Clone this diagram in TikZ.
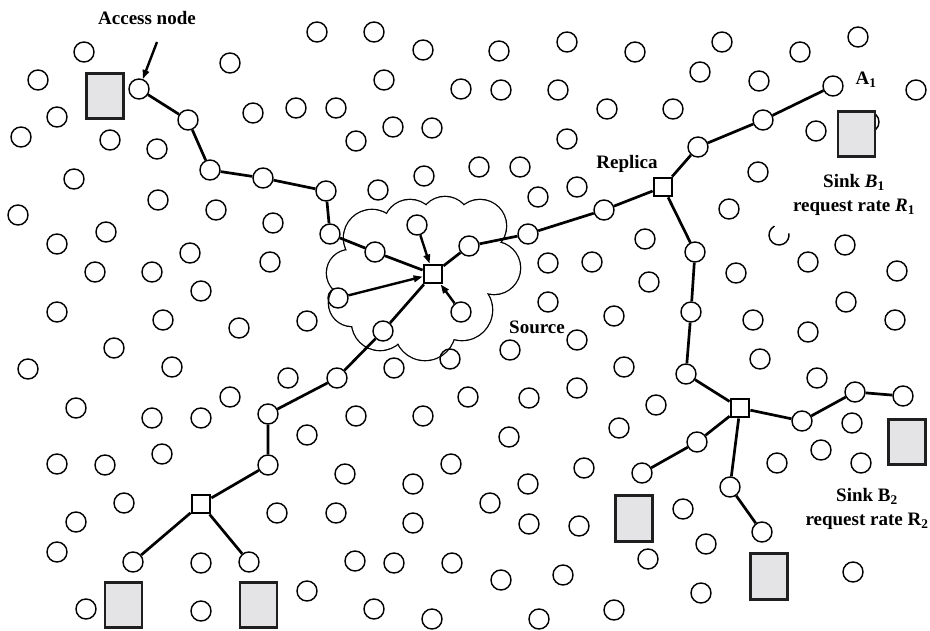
\documentclass[tikz,border=0pt]{standalone}
\usepackage{fontspec}
\setmainfont{Liberation Serif}
\usetikzlibrary{arrows.meta}
\definecolor{sinkgray}{RGB}{228,228,231}
\begin{document}
\begin{tikzpicture}[x=1pt,y=-1pt,
  dot/.style={circle,draw,line width=1.45pt,minimum size=20pt,inner sep=0pt},
  relay/.style={rectangle,draw,line width=2.8pt,minimum size=18pt,inner sep=0pt,fill=white},
  sinkbox/.style={rectangle,draw=black!88,line width=2.9pt,fill=sinkgray,minimum width=37pt,minimum height=45.5pt,inner sep=0pt},
  link/.style={line width=2.7pt},
  arr/.style={line width=2.4pt,-{Triangle[length=9pt,width=6.5pt]}},
  lbl/.style={font=\fontsize{19}{24}\selectfont\bfseries,inner sep=0pt,align=center}
]
\useasboundingbox (0,0) rectangle (930,631);

% cloud
\def\bumps{372/238/28,410/226/26,445/222/25,480/226/26,494/268/26,462/310/30,425/330/30,380/322/28,352/303/23,350/273/23}
\foreach \u/\v/\r in \bumps {\draw[line width=2.6pt] (\u,\v) circle[radius=\r];}
\foreach \u/\v/\r in \bumps {\fill[white] (\u,\v) circle[radius=\r];}
\fill[white] (425,275) ellipse[x radius=65,y radius=50];

% background sensor nodes
\foreach \p [count=\i] in {
(84,52),(317,32),(374,32),(423,50),(499,51),(567,42),(635,52),(722,42),(800,52),(858,37),
(38,80),(230,63),(384,80),(461,89),(501,90),(558,90),(700,72),(759,81),(916,90),
(57,117),(253,113),(296,108),(336,108),(393,127),(432,128),(607,109),(673,109),
(21,137),(110,140),(157,149),(356,141),(567,139),(816,131),
(74,179),(158,200),(424,176),(378,190),(479,167),(520,167),(577,187),(538,197),(758,172),
(18,215),(216,210),(106,232),(57,244),(190,253),(273,223),(270,262),(729,209),
(95,272),(152,272),(201,291),(645,239),(548,263),(592,262),(649,282),(845,245),(808,262),(736,273),(897,271),
(57,312),(163,320),(239,328),(307,321),(548,302),(614,316),(846,302),(753,320),(808,332),(895,320),
(114,348),(28,369),(172,367),(230,397),(288,378),(450,359),(394,368),(468,397),(510,350),(577,340),(624,367),(760,359),(817,378),
(76,408),(152,418),(201,418),(356,416),(423,416),(529,398),(577,388),(656,405),(619,428),
(57,464),(105,465),(162,454),(124,503),(76,522),(57,552),(201,563),(86,609),(201,611),
(307,435),(345,474),(413,484),(451,464),(277,513),(336,513),(413,523),(355,561),(394,563),(452,563),(307,591),(374,609),(432,619),
(509,437),(584,468),(528,484),(490,503),(529,524),(579,526),(683,509),(706,544),(648,559),(501,580),(563,575),(701,593),(539,619),(614,610),
(852,423),(821,450),(777,463),(861,463),(853,572),(869,122)}
  {\node[dot] (n\i) at \p {};}

% broken circle
\draw[line width=1.45pt] (779,235) ++(-117:10) arc[start angle=-117,end angle=-370,radius=10];

% route nodes
\node[dot] (a0) at (139,89) {};
\node[dot] (a1) at (188,120) {};
\node[dot] (a2) at (210,170) {};
\node[dot] (a3) at (263,178) {};
\node[dot] (a4) at (326,191) {};
\node[dot] (a5) at (330,234) {};
\node[dot] (a6) at (375,252) {};
\node[dot] (b1) at (469,246) {};
\node[dot] (b2) at (528,234) {};
\node[dot] (b3) at (604,210) {};
\node[dot] (c1) at (698,147) {};
\node[dot] (c2) at (763,120) {};
\node[dot] (c3) at (833,86) {};
\node[dot] (d1) at (695,252) {};
\node[dot] (d2) at (691,312) {};
\node[dot] (d3) at (686,374) {};
\node[dot] (e1) at (697,442) {};
\node[dot] (e2) at (642,473) {};
\node[dot] (f1) at (730,487) {};
\node[dot] (f2) at (762,532) {};
\node[dot] (g1) at (802,421) {};
\node[dot] (g2) at (855,392) {};
\node[dot] (g3) at (903,396) {};
\node[dot] (h1) at (383,331) {};
\node[dot] (h2) at (337,378) {};
\node[dot] (h3) at (268,414) {};
\node[dot] (h4) at (268,465) {};
\node[dot] (i1) at (133,562) {};
\node[dot] (i2) at (249,562) {};
\node[dot] (j1) at (338,298) {};
\node[dot] (j2) at (417,225) {};
\node[dot] (j3) at (461,312) {};

% relays
\node[relay] (src) at (433,274) {};
\node[relay] (rep) at (663,187) {};
\node[relay] (rr) at (740,408) {};
\node[relay] (rl) at (201,504) {};

% sinks
\node[sinkbox] (s0) at (105,96) {};
\node[sinkbox] (s1) at (856.5,134) {};
\node[sinkbox] (s2) at (123.5,605) {};
\node[sinkbox] (s3) at (258.5,605) {};
\node[sinkbox] (s4) at (634,518.5) {};
\node[sinkbox] (s5) at (769,576.5) {};
\node[sinkbox] (s6) at (907,442) {};

% links
\draw[link] (a0) -- (a1) -- (a2) -- (a3) -- (a4) -- (a5) -- (a6) -- (src);
\draw[link] (src) -- (b1) -- (b2) -- (b3) -- (rep);
\draw[link] (rep) -- (c1) -- (c2) -- (c3);
\draw[link] (rep) -- (d1) -- (d2) -- (d3) -- (rr);
\draw[link] (rr) -- (e1) -- (e2);
\draw[link] (rr) -- (f1) -- (f2);
\draw[link] (rr) -- (g1) -- (g2) -- (g3);
\draw[link] (src) -- (h1) -- (h2) -- (h3) -- (h4) -- (rl);
\draw[link] (rl) -- (i1);
\draw[link] (rl) -- (i2);
\draw[arr] (j1) -- (src);
\draw[arr] (j2) -- (src);
\draw[arr] (j3) -- (src);

% labels
\node[lbl] (tacc) at (147,18) {Access node};
\coordinate (acctail) at (157,42);
\draw[arr] (acctail) -- (a0);
\node[lbl] (trep) at (627,164) {Replica};
\node[lbl] (tsrc) at (537,327) {Source};
\node[lbl] (ta1) at (866,80) {A\textsubscript{1}};
\node[lbl] (tb1) at (854,195) {Sink \textit{B}\textsubscript{1}\\request rate \textit{R}\textsubscript{1}};
\node[lbl] (tb2) at (867,509) {Sink B\textsubscript{2}\\request rate R\textsubscript{2}};
\end{tikzpicture}
\end{document}
